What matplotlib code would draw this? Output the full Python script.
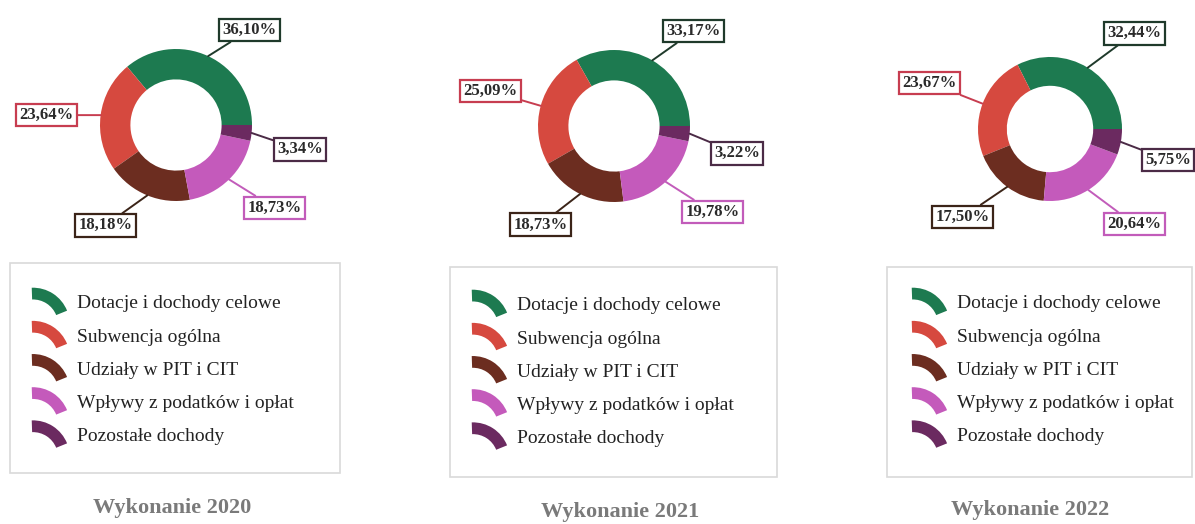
import numpy as np
import matplotlib
matplotlib.use("Agg")
import matplotlib.pyplot as plt
from matplotlib.patches import Wedge, Rectangle
from matplotlib.legend_handler import HandlerPatch

plt.rcParams['font.family'] = ['Liberation Serif', 'DejaVu Serif']

categories = ["Dotacje i dochody celowe", "Subwencja ogólna", "Udziały w PIT i CIT",
              "Wpływy z podatków i opłat", "Pozostałe dochody"]
years = ["2020", "2021", "2022"]
share_2020 = [36.10, 23.64, 18.18, 18.73, 3.34]
share_2021 = [33.17, 25.09, 18.73, 19.78, 3.22]
share_2022 = [32.44, 23.67, 17.50, 20.64, 5.75]
shares = [share_2020, share_2021, share_2022]

colors = ["#1d7a50", "#d6493f", "#6c2d20", "#c45abb", "#6b2a60"]
edge_colors = ["#1f3a2b", "#c73d50", "#3b2418", "#c25cba", "#4b2b46"]

W, H = 1195, 524
fig = plt.figure(figsize=(W / 100, H / 100), dpi=100)
fig.patch.set_facecolor("white")

def fx(px):
    return px / W

def fy(py):
    return 1 - py / H

# donut centres / radius in pixels
centres = [(176, 125, 76), (614, 126, 76), (1050, 129, 72)]
# label box positions, in units of donut radius
label_pos = [
    [(0.97, 1.25), (-1.70, 0.13), (-0.93, -1.32), (1.30, -1.09), (1.63, -0.32)],
    [(1.05, 1.25), (-1.63, 0.46), (-0.97, -1.30), (1.30, -1.13), (1.62, -0.36)],
    [(1.17, 1.33), (-1.67, 0.64), (-1.21, -1.22), (1.17, -1.32), (1.64, -0.43)],
]
legend_boxes = [(10, 263, 340, 473), (450, 267, 777, 477), (887, 267, 1192, 477)]
legend_anchor = [(33, 370), (473, 372), (913, 370)]
title_pos = [(172, 508), (620, 512), (1030, 510)]


class ArcHandler(HandlerPatch):
    def create_artists(self, legend, orig_handle, xdescent, ydescent,
                       width, height, fontsize, trans):
        r = width * 1.05
        yc = height / 2 - 0.62 * r
        p = Wedge((-xdescent, -ydescent + yc), r, 22, 92,
                  width=0.32 * r, facecolor=orig_handle.get_facecolor(),
                  edgecolor="none", transform=trans)
        return [p]


AW, AH = 340, 260
for i, vals in enumerate(shares):
    cx, cy, r = centres[i]
    ax = fig.add_axes([fx(cx - AW / 2), fy(cy + AH / 2), AW / W, AH / H])
    wedges, _ = ax.pie(vals, colors=colors, startangle=0, counterclock=True,
                       radius=1, wedgeprops=dict(width=0.4, linewidth=0))
    ax.set_xlim(-AW / 2 / r, AW / 2 / r)
    ax.set_ylim(-AH / 2 / r, AH / 2 / r)
    ax.set_aspect("equal")
    ax.axis("off")
    for j, w in enumerate(wedges):
        ang = np.deg2rad((w.theta1 + w.theta2) / 2)
        txt = f"{vals[j]:.2f}%".replace(".", ",")
        ax.annotate(txt, xy=(np.cos(ang), np.sin(ang)), xytext=label_pos[i][j],
                    ha="center", va="center", fontsize=12, fontweight="bold",
                    color="#2a2a2a",
                    bbox=dict(boxstyle="square,pad=0.2", fc="white",
                              ec=edge_colors[j], lw=1.6),
                    arrowprops=dict(arrowstyle="-", color=edge_colors[j], lw=1.4,
                                    shrinkA=0, shrinkB=0))

    x0, y0, x1, y1 = legend_boxes[i]
    fig.add_artist(Rectangle((fx(x0), fy(y1)), (x1 - x0) / W, (y1 - y0) / H,
                             transform=fig.transFigure, fill=False,
                             ec="#d9d9d9", lw=1.2))
    handles = [Wedge((0, 0), 1, 0, 90, facecolor=c) for c in colors]
    lx, ly = legend_anchor[i]
    fig.legend(handles, categories, loc="center left",
               bbox_to_anchor=(fx(lx), fy(ly)), frameon=False,
               fontsize=14, handlelength=1.8, handleheight=0.7,
               handletextpad=0.45, labelspacing=0.8, borderpad=0,
               borderaxespad=0, labelcolor="#222222",
               handler_map={Wedge: ArcHandler()})

    tx, ty = title_pos[i]
    fig.text(fx(tx), fy(ty), f"Wykonanie {years[i]}", ha="center", va="center",
             fontsize=16, fontweight="bold", color="#7a7a7a")

fig.savefig("out.png", dpi=100)
